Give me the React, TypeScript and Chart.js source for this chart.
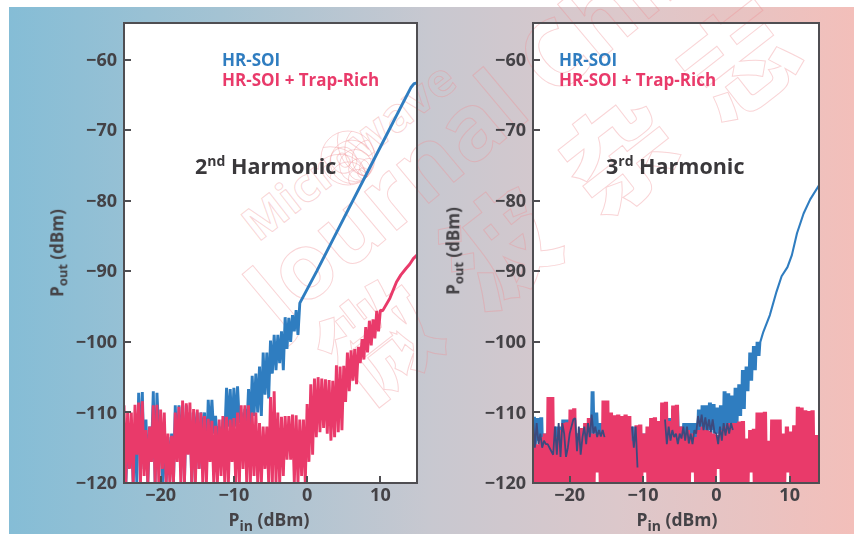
import React, { useEffect, useRef } from "react";
import { Chart, registerables } from "chart.js";

Chart.register(...registerables);

const SANS = '"Open Sans", sans-serif';
const GRID_START = -25;
const GRID_STEP = 0.25;
const yTicks = [-120, -110, -100, -90, -80, -70, -60];
const xTicks = [-20, -10, 0, 10];

// Noise floors: alternating upper / lower swing values on the measurement grid.
const blue2Noise = [
  -113,-120,-113,-117,-112,-120,-112,-120,-107.2,-116,-107.1,-118,-111,-120,-112,-116,-107,-120,-107.2,-113,
  -112,-120,-113,-120,-113.5,-118,-113,-120,-109,-116,-109,-114,-110,-120,-109,-115,-110,-120,-110,-114,
  -110,-118,-110,-114,-110,-117,-108.2,-113,-108.2,-113,-110.5,-114,-112,-116,-111,-113.5,-106.5,-112,-106.7,-113,
  -106.5,-112,-106.3,-111.5,-110,-113,-109.5,-113,-106.7,-112,-104.8,-110.5,-104.5,-110,-103.5,-110.5,-101.5,-107.5,-101.5,-108,
  -99.8,-104.5,-99,-104,-99,-103,-98.5,-104,-96.5,-101,-96.6,-100,-96.2,-98.5,-95.5,-99,-94.5,
];
const blue2LineX = [1.3, 5, 9, 13, 14.2, 14.6, 15];
const blue2LineY = [-90, -82.5, -74.4, -66.3, -63.9, -63.4, -63.3];

const red2Noise = [
  -109,-120,-109.8,-118,-110,-120,-108.9,-116,-108.6,-120,-108.4,-119,-112.5,-120,-112,-117,-109,-120,-108.9,-120,
  -109.6,-118,-110,-120,-113,-120,-113.3,-120,-110,-117,-109.2,-120,-108.3,-120,-108.7,-116,-108.6,-120,-109.5,-120,
  -109.6,-118,-110,-120,-110.5,-120,-110.9,-117,-111.2,-120,-111.9,-120,-111,-119,-110.5,-120,-110.6,-120,-111,-117,
  -110.8,-120,-110,-120,-109,-118,-109,-120,-109,-120,-110,-119,-110,-120,-111.5,-120,-112,-118,-112,-120,
  -107.8,-120,-107,-120,-110,-120,-110.6,-119,-110.5,-116.7,-110.5,-116.7,-110.3,-120,-110.4,-120,-111,-119,-111,-120,
  -108.8,-117,-106,-116,-105.2,-113.5,-105,-112.8,-105.2,-112.2,-105.3,-113,-105.4,-114,-105.5,-113.5,-103.3,-112.8,-103.5,-112.5,
  -103.4,-108.5,-101.5,-107,-101.2,-105.5,-101,-106,-100.7,-103,-99.6,-102.5,-97.9,-101.5,-97,-100.5,-96.8,-99.5,-95.6,-98.5,-95.5,
];
const red2LineX = [10.3, 11.3, 12.2, 12.8, 13.5, 14, 14.5, 15];
const red2LineY = [-95.6, -93.8, -91.5, -90.5, -89.6, -89, -88.2, -87.7];

const blue3Noise = [
  -110.6,-115,-110.8,-114,-110.7,-116,-113,-116,-113,-116,-112.5,-116,-112,-116,-112,-116,-111,-115,-111,-116,
  -111.5,-116,-111,-116,-113,-116,-112.5,-116,-112,-114,-112,-114,-107,-113,-110,-113,-111.5,-113,-111.5,-113,
  -112,-115,-112,-115,-112,-115,-112,-115,-112,-115,-112,-115,-112,-115,-112,-115,-112,-117.8,-113,-115,
  -113,-115,-113,-115,-113,-115,-113,-115,-113,-115,-113,-115,-110.8,-114,-110.8,-114,-109.5,-113,-109,-113,
  -112,-113.5,-111.5,-113.5,-111.5,-114,-111.5,-114,-111.5,-114,-109.6,-113.5,-109,-113,-109,-113,-108.6,-112.5,-108.8,-113,
  -109.3,-113,-109,-114,-107,-112.5,-107.3,-112.5,-107.6,-112.5,-106.5,-112,-106,-110.5,-104,-109.5,-103.5,-107,-101.5,-105.5,
  -100.6,-104,-100,-102,-100,
];
const blue3LineX = [6.4, 7.3, 8.2, 8.9, 9.7, 10.3, 11, 11.9, 12.8, 14];
const blue3LineY = [-98.6, -96.2, -92.9, -90.7, -89.4, -87.7, -84.6, -81.8, -79.8, -77.8];

const red3Noise = [
  -114,-120,-114.5,-120,-113.5,-120,-113,-120,-107.8,-120,-107.8,-120,-113.5,-120,-112.5,-120,-111.5,-120,-111.4,-120,
  -109.6,-120,-109.4,-120,-113,-120,-112.2,-120,-111.5,-120,-110.8,-120,-113,-120,-113,-118.5,-113,-120,-108.3,-120,
  -108.3,-120,-110,-120,-110.4,-120,-110.3,-120,-110.5,-120,-110.3,-120,-110.5,-120,-114,-120,-111.8,-120,-111.7,-120,
  -113,-118.5,-112,-120,-110.8,-120,-110.7,-120,-111.2,-120,-108.6,-120,-108.5,-120,-111.2,-120,-109,-120,-108.9,-120,
  -112,-120,-113,-120,-112.5,-120,-113,-118.5,-113.5,-120,-112.5,-120,-112,-120,-112.5,-120,-112.6,-120,-113,-120,
  -113.2,-118,-112.5,-120,-112,-120,-111.5,-120,-111.5,-120,-111.5,-120,-111.3,-120,-111.2,-120,-113.7,-120,-112.5,-118.5,
  -112.3,-120,-110,-120,-110,-120,-109.9,-120,-114,-120,-111,-120,-111,-120,-111,-120,-113,-120,-112,-118.5,
  -112.7,-120,-111.8,-120,-109.2,-120,-109.3,-120,-109.7,-120,-109.8,-120,-109.7,-120,-113.2,-120,-113.2,
];

// Where the blue trace prints through the red one (null = not visible).
const overlap3 = [
  -111,-115,-111.5,-114.5,-113,-115,-114,-114.5,-114.5,-115,-115.5,-116,-112,-116,-111.5,-116.3,-111.5,-113,-116.3,-115,
  -113,-112,-111,-110.8,-115.5,-112,-116,-113.5,-112,-114.5,-111.5,-113.5,-110.3,-113,-112,-113.5,-112.5,-113.4,-112.5,-113.5,
  null,null,null,null,null,null,null,null,null,null,null,null,null,null,-112,-115,-112,-117.8,null,null,
  null,null,null,null,null,null,null,null,null,null,null,null,-111,-114.5,-112,-114,-112.5,-113.5,-113,-114.5,
  -113,-113.7,-112,-114,-112,-114.4,-113,-114.5,-112.5,-113,-110.5,-112,-110.3,-112.5,-110.7,-112.5,-111,-112.8,-111,-112.8,
  -113,-114.5,-112,-114,-111.5,-113.3,-111.5,-113,-111.5,-112.5,
];

const BLUE = "#2f7dc0";
const RED = "#e93a6a";
const INK = "#444246";

// The right-hand sweep repeats each upper/lower swing twice inside its 0.5 dB slot, so it prints as a dense band.
function band(values: number[], lineX: number[] = [], lineY: number[] = []) {
  const pts: { x: number; y: number }[] = [];
  for (let i = 0; i < values.length; i += 2) {
    const x0 = GRID_START + i * GRID_STEP;
    if (i + 1 < values.length) {
      pts.push({ x: x0, y: values[i] }, { x: x0 + GRID_STEP / 2, y: values[i + 1] });
      pts.push({ x: x0 + GRID_STEP, y: values[i] }, { x: x0 + GRID_STEP * 1.5, y: values[i + 1] });
    } else {
      pts.push({ x: x0, y: values[i] });
    }
  }
  return [...pts, ...lineX.map((x, i) => ({ x, y: lineY[i] }))];
}

function onGrid(values: (number | null)[], lineX: number[] = [], lineY: number[] = []) {
  const noise = values.map((y, i) => ({ x: GRID_START + i * GRID_STEP, y }));
  return [...noise, ...lineX.map((x, i) => ({ x, y: lineY[i] }))];
}

const frameAndTicks = {
  id: "frameAndTicks",
  afterDatasetsDraw(chart: any) {
    const { ctx, chartArea: a, scales } = chart;
    ctx.save();
    ctx.strokeStyle = "#4f4e52";
    ctx.lineWidth = 2;
    ctx.strokeRect(a.left, a.top, a.right - a.left, a.bottom - a.top);
    ctx.beginPath();
    for (const t of scales.y.ticks) {
      const p = Math.round(scales.y.getPixelForValue(t.value));
      ctx.moveTo(a.left, p);
      ctx.lineTo(a.left + 7, p);
    }
    for (const t of scales.x.ticks) {
      const p = Math.round(scales.x.getPixelForValue(t.value));
      ctx.moveTo(p, a.bottom);
      ctx.lineTo(p, a.bottom - 7);
    }
    ctx.stroke();
    ctx.restore();
  },
};

function makeConfig(datasets: any[], xMax: number, padLeft: number, padRight: number) {
  const tickFont = { family: SANS, size: 18, weight: "bold" as const };
  const minus = (v: any) => String(v).replace("-", "\u2212");
  return {
    type: "line" as const,
    data: { datasets },
    plugins: [frameAndTicks],
    options: {
      responsive: false,
      animation: false as const,
      parsing: false as const,
      normalized: true,
      layout: { padding: { left: padLeft, right: padRight, top: 23, bottom: 11 } },
      plugins: { legend: { display: false }, title: { display: false }, tooltip: { enabled: false } },
      elements: { point: { radius: 0 }, line: { tension: 0, borderJoinStyle: "bevel" as const } },
      scales: {
        x: {
          type: "linear" as const,
          min: GRID_START,
          max: xMax,
          afterFit: (s: any) => { s.height = 40; },
          afterBuildTicks: (s: any) => { s.ticks = xTicks.map((value) => ({ value })); },
          grid: { display: false, drawTicks: false },
          border: { display: false },
          ticks: { font: tickFont, color: INK, padding: 2, maxRotation: 0, callback: minus },
        },
        y: {
          type: "linear" as const,
          min: -120,
          max: -54.8,
          afterFit: (s: any) => { s.width = 60; },
          afterBuildTicks: (s: any) => { s.ticks = yTicks.map((value) => ({ value })); },
          grid: { display: false, drawTicks: false },
          border: { display: false },
          ticks: { font: tickFont, color: INK, padding: 7, labelOffset: 1, callback: minus },
        },
      },
    },
  };
}

const abs = (o: React.CSSProperties): React.CSSProperties => ({ position: "absolute", ...o });
const textBase: React.CSSProperties = { fontFamily: SANS, fontWeight: 700, whiteSpace: "nowrap", lineHeight: 1 };

function Legend({ left }: { left: number }) {
  return (
    <>
      <div style={abs({ ...textBase, left, top: 51, fontSize: 17, color: BLUE })}>HR-SOI</div>
      <div style={abs({ ...textBase, left, top: 71, fontSize: 17, color: RED })}>HR-SOI + Trap-Rich</div>
    </>
  );
}

function YTitle({ cx, cy }: { cx: number; cy: number }) {
  return (
    <div style={abs({ ...textBase, left: cx, top: cy, fontSize: 17, color: INK, transform: "translate(-50%,-50%) rotate(-90deg)" })}>
      P<sub style={{ fontSize: 13 }}>out</sub> (dBm)
    </div>
  );
}

function XTitle({ cx }: { cx: number }) {
  return (
    <div style={abs({ ...textBase, left: cx, top: 522, fontSize: 17.5, color: INK, transform: "translate(-50%,-50%)" })}>
      P<sub style={{ fontSize: 14 }}>in</sub> (dBm)
    </div>
  );
}

function Watermark() {
  const line = { fill: "none", stroke: "#ee8f92", strokeOpacity: 0.38, strokeWidth: 1 };
  const smith = [0.8, 0.6, 0.4, 0.2];
  return (
    <svg width={854} height={534} style={abs({ left: 0, top: 0 })}>
      <defs>
        <clipPath id="sm"><circle cx={348} cy={158} r={27} /></clipPath>
      </defs>
      <g {...line}>
        <circle cx={348} cy={158} r={27} />
        <g clipPath="url(#sm)">
          {smith.map((f) => (
            <circle key={f} cx={367 - 19 * f} cy={177 - 19 * f} r={27 * f} />
          ))}
          {smith.map((f) => (
            <circle key={f} cx={367 - 46 * f} cy={177 + 46 * f * 0.2} r={47 * f} />
          ))}
          {smith.map((f) => (
            <circle key={f} cx={367 + 10 * f} cy={177 - 46 * f} r={47 * f} />
          ))}
        </g>
      </g>
      <text {...line} transform="translate(258,243) rotate(-38)" fontFamily={SANS} fontWeight={700} fontSize={46} textLength={256} lengthAdjust="spacingAndGlyphs">Microwave</text>
      <text {...line} transform="translate(278,330) rotate(-40)" fontFamily={SANS} fontWeight={700} fontSize={92}>Journal China</text>
      <text {...line} transform="translate(362,408) rotate(-38)" fontFamily='"Noto Sans CJK SC"' fontWeight={900} fontSize={110} letterSpacing={42}>微波杂志</text>
    </svg>
  );
}

export default function App() {
  const leftRef = useRef<HTMLCanvasElement>(null);
  const rightRef = useRef<HTMLCanvasElement>(null);

  useEffect(() => {
    const left = new Chart(
      leftRef.current as HTMLCanvasElement,
      makeConfig(
        [
          { label: "HR-SOI", order: 2, data: onGrid(blue2Noise, blue2LineX, blue2LineY), borderColor: BLUE, borderWidth: 2.9 },
          { label: "HR-SOI + Trap-Rich", order: 1, data: onGrid(red2Noise, red2LineX, red2LineY), borderColor: RED, borderWidth: 2.9 },
        ],
        15,
        64,
        437
      ) as any
    );
    const right = new Chart(
      rightRef.current as HTMLCanvasElement,
      makeConfig(
        [
          { label: "HR-SOI", order: 2, data: band(blue3Noise, blue3LineX, blue3LineY), borderColor: BLUE, borderWidth: 2.1 },
          { label: "HR-SOI + Trap-Rich", order: 1, data: band(red3Noise), borderColor: RED, borderWidth: 2.4 },
          { label: "Overprint", order: 0, data: onGrid(overlap3), borderColor: "#3c4a7e", borderWidth: 1.8, spanGaps: false },
        ],
        14,
        473,
        35
      ) as any
    );
    return () => {
      left.destroy();
      right.destroy();
    };
  }, []);

  const canvasStyle = abs({ left: 0, top: 0 });
  return (
    <div style={abs({ left: 0, top: 0, width: 854, height: 534, overflow: "hidden", background: "#fff" })}>
      <div style={abs({ left: 9, top: 7, width: 845, height: 527, background: "linear-gradient(90deg,#85bdd6 0%,#a4c3d3 25%,#c8c8d0 50%,#dcc8cb 72%,#f3bfba 100%)" })} />
      <div style={abs({ left: 124, top: 23, width: 293, height: 460, background: "#fff" })} />
      <div style={abs({ left: 533, top: 23, width: 286, height: 460, background: "#fff" })} />
      <Watermark />
      <canvas ref={leftRef} width={854} height={534} style={canvasStyle} />
      <canvas ref={rightRef} width={854} height={534} style={canvasStyle} />
      <Legend left={222} />
      <Legend left={559} />
      <div style={abs({ ...textBase, left: 195, top: 155, fontSize: 21.5, color: "#3a383b" })}>
        2<sup style={{ fontSize: 14, lineHeight: 0 }}>nd</sup> Harmonic
      </div>
      <div style={abs({ ...textBase, left: 606, top: 155, fontSize: 21.5, color: "#3a383b" })}>
        3<sup style={{ fontSize: 14, lineHeight: 0 }}>rd</sup> Harmonic
      </div>
      <YTitle cx={59} cy={253} />
      <YTitle cx={455} cy={251} />
      <XTitle cx={269} />
      <XTitle cx={677} />
    </div>
  );
}
